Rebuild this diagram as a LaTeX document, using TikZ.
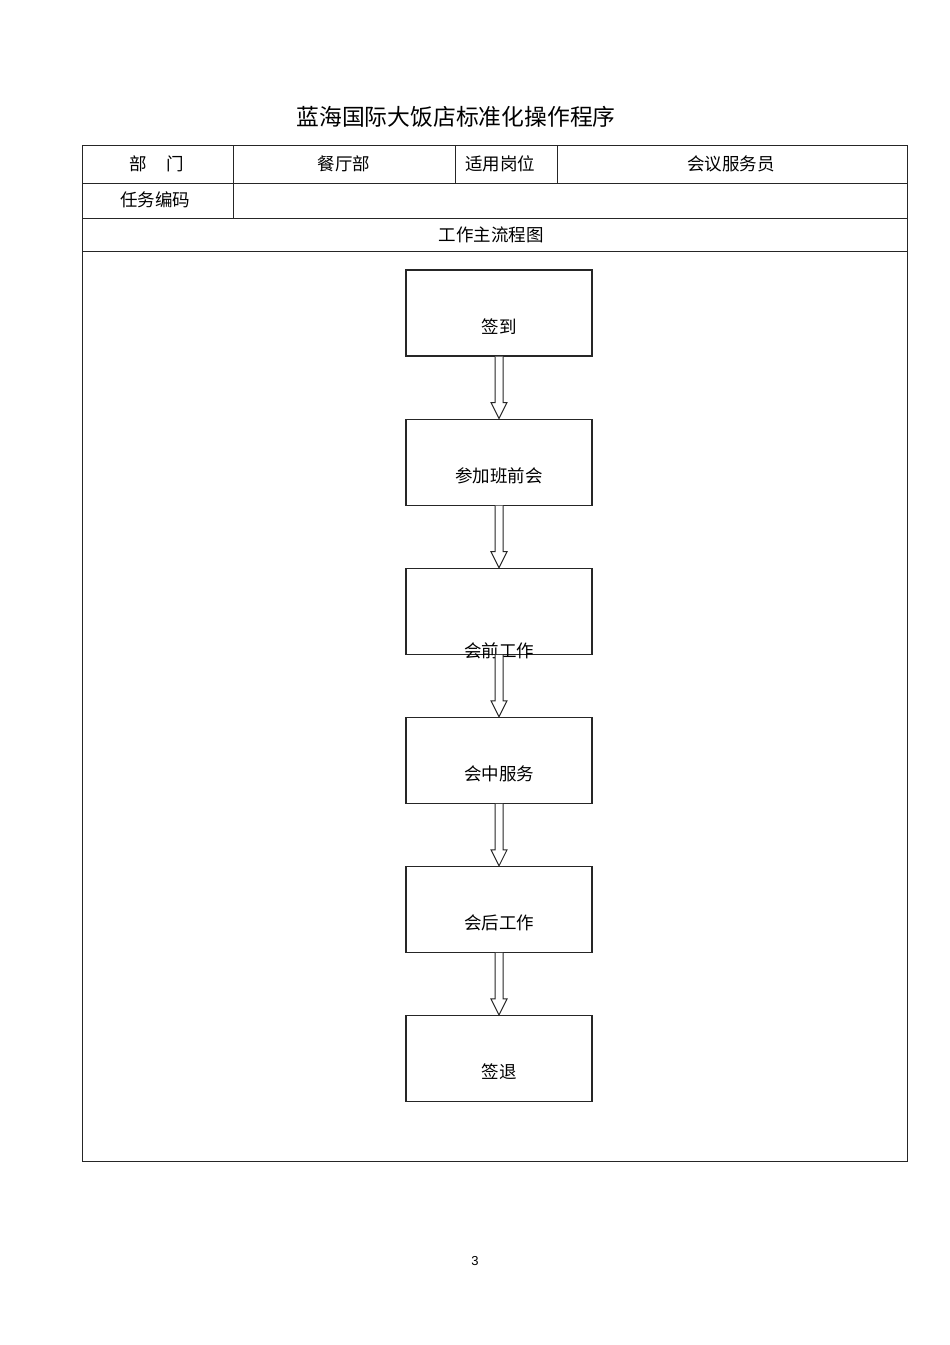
\documentclass[tikz,border=0pt]{standalone}
\usepackage{fontspec}
\setmainfont{Liberation Sans}
\newfontfamily\cjk{Noto Sans CJK SC}
\usetikzlibrary{positioning,calc}

\begin{document}
\begin{tikzpicture}[
    x=1pt, y=-1pt,
    node distance=62pt,
    grid/.style={line width=1pt, black!85},
    cell/.style={font=\cjk\fontsize{17.5}{20}\selectfont, inner sep=0pt},
    stepbox/.style={draw=black!85, line width=1.1pt, minimum width=186pt, minimum height=86pt, inner ysep=4pt,
        text height=59pt, text depth=19pt, font=\cjk\fontsize{17.5}{20}\selectfont, align=center},
    steptxt/.style={font=\cjk\fontsize{17.5}{20}\selectfont, inner sep=0pt},
    hollow/.style={draw=black!85, line width=1pt, fill=white,
        to path={let \p1=(\tikztostart), \p2=(\tikztotarget) in
            (\x1-4pt,\y1) -- (\x1-4pt,\y2+16pt) -- (\x1-8pt,\y2+16pt) -- (\x1,\y2)
            -- (\x1+8pt,\y2+16pt) -- (\x1+4pt,\y2+16pt) -- (\x1+4pt,\y1)}}
]
\useasboundingbox (0,0) rectangle (950,1345);

% title
\node[font=\cjk\fontsize{22.8}{26}\selectfont, inner sep=0pt] (title) at (456,117) {蓝海国际大饭店标准化操作程序};

% table frame
\draw[grid] (82,145) rectangle (907,1161);
\draw[grid] (82,183) -- (907,183);
\draw[grid] (82,218) -- (907,218);
\draw[grid] (82,251) -- (907,251);
\draw[grid] (233,145) -- (233,218);
\draw[grid] (455,145) -- (455,183);
\draw[grid] (557,145) -- (557,183);

\node[cell] (dept) at (157,164) {部\hspace{20pt}门};
\node[cell] (deptv) at (344,164) {餐厅部};
\node[cell] (post) at (500,164) {适用岗位};
\node[cell] (postv) at (731,164) {会议服务员};
\node[cell] (code) at (155,200) {任务编码};
\node[cell] (flow) at (491,235) {工作主流程图};

% flow
\node[stepbox] (sign) at (499,313) {签到};
\node[stepbox, below=of sign] (brief) {参加班前会};
\node[stepbox, below=of brief] (pre) {};
\node[steptxt] (pretxt) at ([yshift=4pt]pre.south) {会前工作};
\node[stepbox, below=of pre] (during) {会中服务};
\node[stepbox, below=of during] (after) {会后工作};
\node[stepbox, below=of after] (out) {签退};

\draw[hollow] (sign.south) to (brief.north);
\draw[hollow] (brief.south) to (pre.north);
\draw[hollow] (pre.south) to (during.north);
\draw[hollow] (during.south) to (after.north);
\draw[hollow] (after.south) to (out.north);

\node[font=\fontsize{13}{15}\selectfont, inner sep=0pt] (page) at (475,1261) {3};
\end{tikzpicture}
\end{document}
